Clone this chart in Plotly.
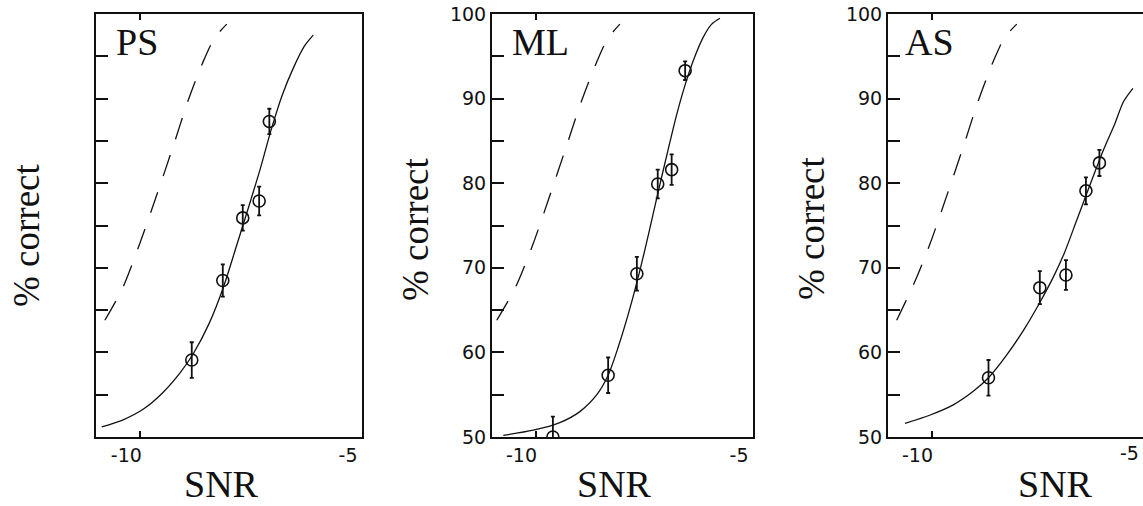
import plotly.graph_objects as go

# ---- data: SNR (dB) vs. percent correct, three listeners ----
panel_names = ["PS", "ML", "AS"]

# measured points with error bars
ps_snr = [-8.84, -8.14, -7.69, -7.32, -7.09]
ps_pc = [59.1, 68.5, 75.9, 77.9, 87.3]
ps_err = [2.1, 1.9, 1.5, 1.7, 1.5]

ml_snr = [-9.60, -8.33, -7.67, -7.19, -6.87, -6.56]
ml_pc = [50.0, 57.3, 69.3, 79.9, 81.6, 93.3]
ml_err = [2.4, 2.1, 2.0, 1.7, 1.8, 1.1]

as_snr = [-8.69, -7.51, -6.91, -6.45, -6.14]
as_pc = [57.0, 67.65, 69.15, 79.1, 82.4]
as_err = [2.1, 1.95, 1.75, 1.6, 1.55]

# fitted psychometric functions (solid)
ps_fit_snr = [-10.87, -10.40, -9.93, -9.50, -9.10, -8.80, -8.45, -8.12, -7.83, -7.55, -7.30, -7.05, -6.80, -6.55, -6.30, -6.10]
ps_fit_pc = [51.2, 52.0, 53.3, 55.2, 57.6, 59.9, 63.4, 67.8, 72.6, 77.3, 81.6, 86.3, 90.4, 93.6, 96.2, 97.5]

ml_fit_snr = [-10.74, -10.05, -9.44, -8.98, -8.59, -8.33, -8.10, -7.83, -7.60, -7.40, -7.21, -6.95, -6.75, -6.55, -6.35, -6.14, -5.95, -5.76]
ml_fit_pc = [50.2, 50.8, 51.7, 53.0, 55.0, 57.3, 60.6, 65.2, 69.7, 74.0, 78.3, 84.0, 88.2, 91.8, 94.8, 97.3, 98.8, 99.5]

as_fit_snr = [-10.61, -10.03, -9.50, -9.04, -8.69, -8.27, -7.85, -7.51, -7.20, -6.95, -6.66, -6.43, -6.05, -5.78, -5.59, -5.37]
as_fit_pc = [51.6, 52.6, 53.8, 55.4, 57.0, 59.7, 62.9, 65.9, 68.9, 71.7, 75.65, 78.8, 83.9, 87.1, 89.6, 91.2]

# reference functions (dashed)
ps_ref_snr = [-10.80, -10.40, -10.01, -9.63, -9.25, -8.92, -8.58, -8.32, -8.05]
ps_ref_pc = [63.8, 67.6, 72.9, 78.6, 84.5, 89.8, 94.4, 97.2, 98.8]

ml_ref_snr = [-10.89, -10.45, -10.05, -9.68, -9.30, -8.95, -8.62, -8.35, -8.06]
ml_ref_pc = [63.8, 67.8, 72.9, 78.4, 84.2, 89.6, 94.0, 97.0, 98.8]

as_ref_snr = [-10.80, -10.38, -10.03, -9.65, -9.27, -8.92, -8.58, -8.32, -8.04]
as_ref_pc = [63.8, 68.4, 72.9, 78.5, 84.3, 89.8, 94.4, 97.2, 98.8]

y_tickvals = [50, 55, 60, 65, 70, 75, 80, 85, 90, 95, 100]
y_ticktext = ["50", "", "60", "", "70", "", "80", "", "90", "", "100"]
x_tickvals = [-10, -5]
x_ticktext = ["-10", "-5"]

panels = [
    dict(pts=(ps_snr, ps_pc, ps_err), fit=(ps_fit_snr, ps_fit_pc), ref=(ps_ref_snr, ps_ref_pc)),
    dict(pts=(ml_snr, ml_pc, ml_err), fit=(ml_fit_snr, ml_fit_pc), ref=(ml_ref_snr, ml_ref_pc)),
    dict(pts=(as_snr, as_pc, as_err), fit=(as_fit_snr, as_fit_pc), ref=(as_ref_snr, as_ref_pc)),
]

W, H = 1143, 506
SERIF = "Liberation Serif"
SANS = "DejaVu Sans"
INK = "#111111"

# plot-area boxes in pixels (left, right); shared top/bottom
boxes = [(96, 362), (492, 753), (888, 1143)]
top_px, bot_px = 14, 437
PX_PER_DB = 43.5
x_ranges = [[-11, -5], [-11, -5], [-11, -11 + (1143 - 888) / PX_PER_DB]]

fig = go.Figure()

for i, p in enumerate(panels):
    n = "" if i == 0 else str(i + 1)
    xa, ya = "x" + n, "y" + n
    rx, ry = p["ref"]
    fig.add_trace(go.Scatter(x=rx, y=ry, mode="lines", xaxis=xa, yaxis=ya,
                             line=dict(color=INK, width=1.3, dash="22px,17px",
                                       shape="spline", smoothing=0.8),
                             showlegend=False, hoverinfo="skip"))
    fx, fy = p["fit"]
    fig.add_trace(go.Scatter(x=fx, y=fy, mode="lines", xaxis=xa, yaxis=ya,
                             line=dict(color=INK, width=1.3, shape="spline", smoothing=0.8),
                             showlegend=False, hoverinfo="skip"))
    px_, py_, pe = p["pts"]
    fig.add_trace(go.Scatter(x=px_, y=py_, mode="markers", xaxis=xa, yaxis=ya,
                             marker=dict(symbol="circle-open", size=12, color=INK,
                                         line=dict(width=1.6, color=INK)),
                             error_y=dict(type="data", array=pe, visible=True,
                                          color=INK, thickness=1.8, width=2),
                             showlegend=False))

    l, r = boxes[i]
    fig.update_layout(**{
        "xaxis" + n: dict(
            domain=[l / W, r / W], range=x_ranges[i], anchor=ya, automargin=False,
            tickvals=x_tickvals, ticktext=x_ticktext, ticks="inside", ticklen=6,
            tickwidth=1.5, tickcolor=INK, showline=True, linecolor=INK, linewidth=2,
            mirror="allticks", showgrid=False, zeroline=False,
            ticklabelshift=-14, tickfont=dict(family=SANS, size=19, color=INK),
        ),
        "yaxis" + n: dict(
            domain=[(H - bot_px) / H, (H - top_px) / H], range=[50, 100], anchor=xa,
            automargin=False, tickvals=y_tickvals,
            ticktext=[""] * len(y_tickvals) if i == 0 else y_ticktext,
            ticks="inside", ticklen=12, tickwidth=1.5, tickcolor=INK,
            showline=True, linecolor=INK, linewidth=2, mirror=(i < 2),
            showgrid=False, zeroline=False,
            tickfont=dict(family=SANS, size=19, color=INK),
        ),
    })

annotations = []
# panel names
for name, cx in zip(panel_names, [137, 540, 929]):
    annotations.append(dict(text=name, x=cx / W, y=1 - 42 / H, xref="paper", yref="paper",
                            showarrow=False, xanchor="center", yanchor="middle",
                            font=dict(family=SERIF, size=38, color=INK)))
# x titles
for cx in [221, 614, 1055]:
    annotations.append(dict(text="SNR", x=cx / W, y=1 - 484 / H, xref="paper", yref="paper",
                            showarrow=False, xanchor="center", yanchor="middle",
                            font=dict(family=SERIF, size=38, color=INK)))
# y titles
for cx, cy in [(26, 236), (415, 230), (811, 229)]:
    annotations.append(dict(text="% correct", x=cx / W, y=1 - cy / H, xref="paper", yref="paper",
                            showarrow=False, textangle=-90, xanchor="center", yanchor="middle",
                            font=dict(family=SERIF, size=37, color=INK)))
# the last panel's -5 tick lies just past the page edge; its label is kept at the edge
annotations.append(dict(text="-5", x=1141 / W, y=1 - 453 / H, xref="paper", yref="paper",
                        showarrow=False, xanchor="right", yanchor="middle",
                        font=dict(family=SANS, size=19, color=INK)))

fig.update_layout(
    width=W, height=H, autosize=False,
    margin=dict(l=0, r=0, t=0, b=0, pad=0, autoexpand=False),
    paper_bgcolor="white", plot_bgcolor="white",
    annotations=annotations,
)

fig.write_html("out.html")
